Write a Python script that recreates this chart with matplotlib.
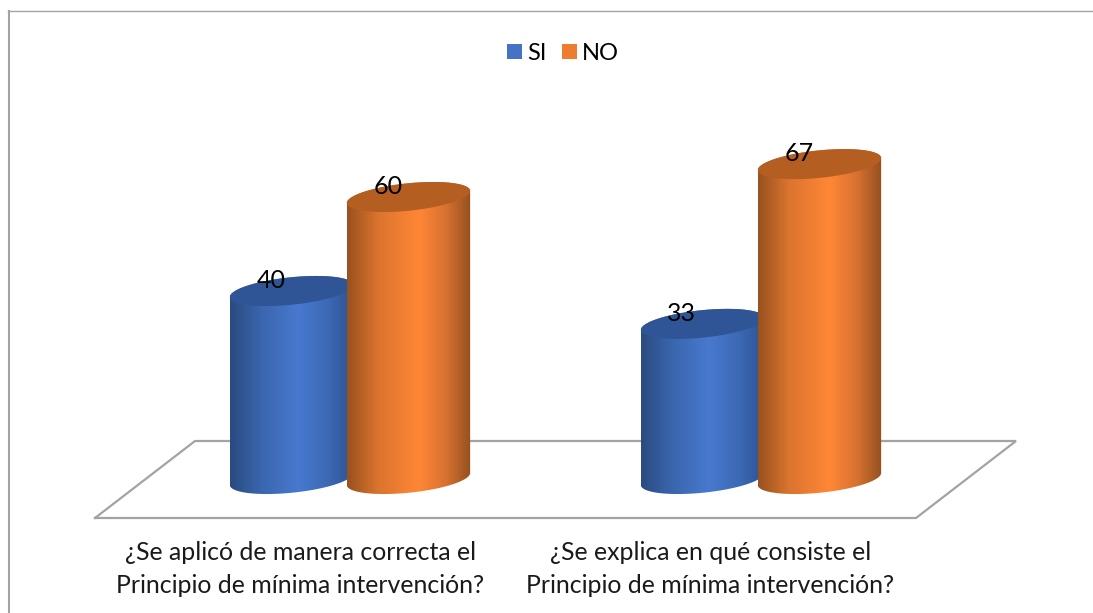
import numpy as np
import matplotlib
matplotlib.use('Agg')
import matplotlib.pyplot as plt
from matplotlib.colors import LinearSegmentedColormap
from matplotlib.lines import Line2D
from matplotlib.patches import Patch, Polygon

categories = ['¿Se aplicó de manera correcta el\nPrincipio de mínima intervención?',
              '¿Se explica en qué consiste el\nPrincipio de mínima intervención?']
series_names = ['SI', 'NO']
si_values = [40, 33]
no_values = [60, 67]

W, H = 1093, 613
plt.rcParams['font.family'] = ['Lato', 'DejaVu Sans']

fig = plt.figure(figsize=(W / 100, H / 100), dpi=100)
ax = fig.add_axes([0, 0, 1, 1])
# 411 px between groups, 4.7 px per unit, zero sits at pixel row 479
x0 = 350
xlims = (-x0 / 411, (W - x0) / 411)
ylims = (-(H - 479) / 4.7, 479 / 4.7)
ax.axis('off')


def px_line(xs, ys, lw=1.5):
    # frame and floor are placed in pixels, behind the cylinders
    ax.add_line(Line2D([x / W for x in xs], [1 - y / H for y in ys], transform=fig.transFigure,
                       color='#A3A3A3', lw=lw, solid_joinstyle='miter', zorder=1))


px_line([8.5, 8.5], [11, H], lw=1.5)
px_line([8, W], [11, 11], lw=1.0)
px_line([95, 195, 1016, 916, 95], [518, 441, 441, 518, 518], lw=1.6)

bar_w = 0.3
offset = 0.1423
t = np.linspace(0, 2 * np.pi, 200)
tilt = 1.28
semi = 2.93

side_si = LinearSegmentedColormap.from_list('si', [(0, '#2A4B80'), (0.25, '#3A66AE'), (0.55, '#4879CF'), (0.8, '#3C69B4'), (1, '#2C5190')])
side_no = LinearSegmentedColormap.from_list('no', [(0, '#98511F'), (0.25, '#DB742E'), (0.58, '#FF8736'), (0.8, '#D87130'), (1, '#94501F')])
top_colors = ['#2F5597', '#B55E22']
legend_colors = ['#4472C4', '#ED7D31']
grad = np.linspace(0, 1, 256).reshape(1, -1)


def cylinder(cx, value, cmap, top_color, z):
    ex = bar_w / 2 * np.cos(t)
    ey = tilt * np.cos(t) + semi * np.sin(t)
    # body outline: lower half of the bottom ellipse, then up over the top
    lower = np.linspace(np.pi, 2 * np.pi, 100)
    lx = cx + bar_w / 2 * np.cos(lower)
    ly = tilt * np.cos(lower) + semi * np.sin(lower)
    upper = np.linspace(0, np.pi, 100)
    ux = cx + bar_w / 2 * np.cos(upper)
    uy = value + tilt * np.cos(upper) + semi * np.sin(upper)
    body = Polygon(np.column_stack([np.r_[lx, ux], np.r_[ly, uy]]), closed=True,
                   transform=ax.transData, fc='none', ec='none')
    ax.add_patch(body)
    im = ax.imshow(grad, cmap=cmap, aspect='auto', zorder=z, interpolation='bilinear',
                   extent=[cx - bar_w / 2, cx + bar_w / 2, -10, value + 10])
    im.set_clip_path(body)
    ax.fill(cx + ex, value + ey, color=top_color, lw=0, zorder=z + 0.1)


for i in range(len(categories)):
    cylinder(i - offset, si_values[i], side_si, top_colors[0], 2)
    cylinder(i + offset, no_values[i], side_no, top_colors[1], 3)
    for dx, val in [(-offset, si_values[i]), (offset, no_values[i])]:
        ax.annotate(str(val), (i + dx, val), xytext=(-14.8, 7.6), textcoords='offset points',
                    ha='center', va='center', fontsize=18, color='black', zorder=5)

ax.set_xlim(*xlims)
ax.set_ylim(*ylims)

label_x = [300.5, 710.5]
for lx, label in zip(label_x, categories):
    fig.text(lx / W, 1 - 569 / H, label, ha='center', va='center', fontsize=17.9,
             linespacing=1.5, color='#1A1A1A')

handles = [Patch(fc=c, ec='none') for c in legend_colors]
fig.legend(handles, series_names, loc='center', bbox_to_anchor=(563 / W, 1 - 53 / H), ncols=2,
           frameon=False, fontsize=17, handlelength=0.62, handleheight=0.62,
           handletextpad=0.22, columnspacing=0.65)

fig.savefig('out.png', dpi=100)
